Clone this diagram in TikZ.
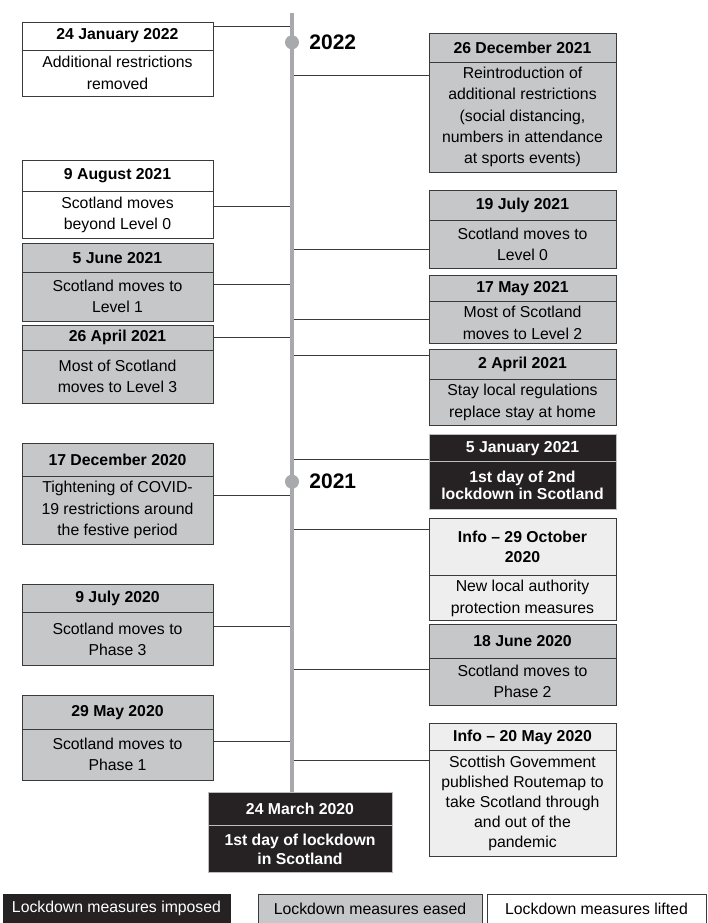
\documentclass[tikz,border=0pt]{standalone}
\usepackage{fontspec}
\setmainfont{Liberation Sans}
\usepackage{tikz}

\definecolor{easedgray}{HTML}{C6C7C9}
\definecolor{infogray}{HTML}{EEEEEE}
\definecolor{darkfill}{HTML}{262223}
\definecolor{edgegray}{HTML}{3A3A3A}
\definecolor{linegray}{HTML}{A7A9AC}
\definecolor{darkedge}{HTML}{BDBDBD}

\begin{document}
\begin{tikzpicture}[x=1pt, y=-1pt, every node/.style={rectangle, draw=edgegray, line width=0.9pt, inner sep=0pt, align=center, font=\fontsize{15.8}{21.3}\selectfont}, every edge/.style={draw=edgegray, line width=0.9pt}, lcol/.style={minimum width=191pt}, rcol/.style={minimum width=187pt}, eased/.style={fill=easedgray}, lifted/.style={fill=white}, info/.style={fill=infogray}, imposed/.style={fill=darkfill, draw=darkedge, text=white}, date/.style={font=\fontsize{15.8}{20}\selectfont\bfseries}, year/.style={draw=none, anchor=west, font=\fontsize{21}{24}\selectfont\bfseries}]
			\useasboundingbox (0,0) rectangle (707,923);
			
			\node[lcol, lifted, date, minimum height=28pt] (h1) at (117.5,36){24 January 2022};
			\node[lcol, lifted, minimum height=46pt] (b1) at (117.5,73){Additional restrictions\\removed};
			\node[lcol, lifted, date, minimum height=30.6pt] (h2) at (117.5,176){9 August 2021};
			\node[lcol, lifted, minimum height=47pt] (b2) at (117.5,214.8){Scotland moves\\beyond Level 0};
			\node[lcol, eased, date, minimum height=29pt] (h3) at (117.5,257.8){5 June 2021};
			\node[lcol, eased, minimum height=48.7pt] (b3) at (117.5,296.6){Scotland moves to\\Level 1};
			\node[lcol, eased, date, minimum height=24.3pt] (h4) at (117.5,337.8){26 April 2021};
			\node[lcol, eased, minimum height=53.3pt] (b4) at (117.5,376.6){Most of Scotland\\moves to Level 3};
			\node[lcol, eased, date, minimum height=33pt] (h5) at (117.5,459.8){17 December 2020};
			\node[lcol, eased, minimum height=67.7pt] (b5) at (117.5,510.1){Tightening of COVID-\\19 restrictions around\\the festive period};
			\node[lcol, eased, date, minimum height=28.7pt] (h6) at (117.5,598.3){9 July 2020};
			\node[lcol, eased, minimum height=52.6pt] (b6) at (117.5,639){Scotland moves to\\Phase 3};
			\node[lcol, eased, date, minimum height=34pt] (h7) at (117.5,712.3){29 May 2020};
			\node[lcol, eased, minimum height=50.7pt] (b7) at (117.5,754.6){Scotland moves to\\Phase 1};
			
			\node[rcol, eased, date, minimum height=29pt] (r1) at (522.5,47.8){26 December 2021};
			\node[rcol, eased, minimum height=109.7pt] (s1) at (522.5,117.1){Reintroduction of\\additional restrictions\\(social distancing,\\numbers in attendance\\at sports events)};
			\node[rcol, eased, date, minimum height=30.7pt] (r2) at (522.5,205.3){19 July 2021};
			\node[rcol, eased, minimum height=47.6pt] (s2) at (522.5,244.5){Scotland moves to\\Level 0};
			\node[rcol, eased, date, minimum height=26pt] (r3) at (522.5,288.7){17 May 2021};
			\node[rcol, eased, minimum height=42pt] (s3) at (522.5,322.7){Most of Scotland\\moves to Level 2};
			\node[rcol, eased, date, minimum height=30pt] (r4) at (522.5,364.3){2 April 2021};
			\node[rcol, eased, minimum height=46pt] (s4) at (522.5,402.3){Stay local regulations\\replace stay at home};
			\node[rcol, imposed, date, minimum height=27pt] (r5) at (522.5,448.2){5 January 2021};
			\node[rcol, imposed, minimum height=47.6pt, font=\fontsize{15.8}{16.5}\selectfont\bfseries] (s5) at (522.5,485.5){1st day of 2nd\\lockdown in Scotland};
			\node[rcol, info, date, minimum height=57pt] (r6) at (522.5,547.2){Info -- 29 October\\2020};
			\node[rcol, info, minimum height=45pt, font=\fontsize{15.8}{22}\selectfont] (s6) at (522.5,598.2){New local authority\\protection measures};
			\node[rcol, eased, date, minimum height=33.7pt] (r7) at (522.5,641.1){18 June 2020};
			\node[rcol, eased, minimum height=47pt] (s7) at (522.5,681.5){Scotland moves to\\Phase 2};
			\node[rcol, info, date, minimum height=26.6pt] (r8) at (522.5,737){Info -- 20 May 2020};
			\node[rcol, info, minimum height=106.4pt, font=\fontsize{15.8}{20}\selectfont] (s8) at (522.5,803.5){Scottish Govemment\\published Routemap to\\take Scotland through\\and out of the\\pandemic};
			
			\node[imposed, date, minimum width=184pt, minimum height=33pt] (m1) at (300,809.2){24 March 2020};
			\node[imposed, minimum width=184pt, minimum height=47pt, font=\fontsize{15.8}{18.7}\selectfont\bfseries] (m2) at (300,849.2){1st day of lockdown\\in Scotland};
			
			\coordinate (top) at (292,12.7);
			\foreach \n/\y in {h1/26.7, h2/206, h3/284.7, h4/337, h5/495.3, h6/626.3, h7/741.7}
				\path (292,\y) edge (\n.east |- 0,\y);
			\foreach \n/\y in {r1/75, r2/249, r3/319.7, r4/355.7, r5/459, r6/529, r7/669.3, r8/760.3}
				\path (292,\y) edge (\n.west |- 0,\y);
			\draw[linegray, line width=4pt] (top) -- (top |- m1.north);
			
			\node[circle, fill=linegray, draw=none, minimum size=14pt] (d1) at (292,42.3){};
			\node[circle, fill=linegray, draw=none, minimum size=14pt] (d2) at (292,481.7){};
			\node[year] (y1) at (309,42.3){2022};
			\node[year] (y2) at (309,481.7){2021};
			
			\node[imposed, draw=darkfill, minimum width=227pt, minimum height=29pt] (k1) at (116.5,908.5){Lockdown measures imposed};
			\node[eased, minimum width=224pt, minimum height=29pt] (k2) at (370,908.5){Lockdown measures eased};
			\node[lifted, minimum width=219pt, minimum height=29pt] (k3) at (596.5,908.5){Lockdown measures lifted};
			\end{tikzpicture}
\end{document}
